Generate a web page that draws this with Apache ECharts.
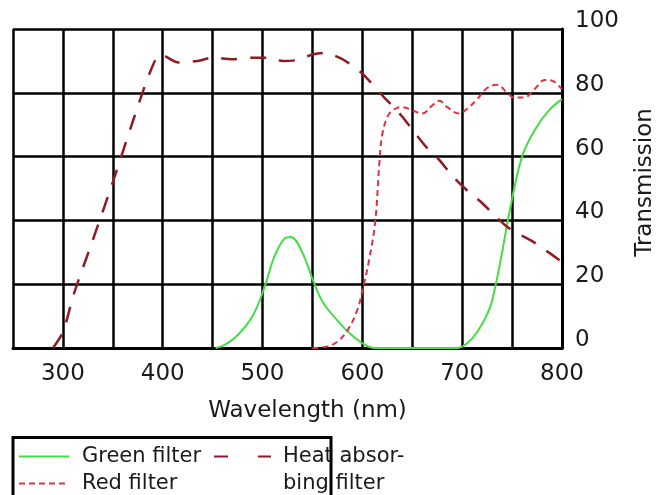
<!DOCTYPE html>
<html>
<head>
<meta charset="utf-8">
<script src="https://cdn.jsdelivr.net/npm/echarts@6/dist/echarts.min.js"></script>
<style>
  html, body { margin: 0; padding: 0; background: #fff; }
  #chart { width: 656px; height: 495px; }
</style>
</head>
<body>
<div id="chart"></div>
<script>
// filter transmission curves
var greenNm  = [453, 462, 475, 490, 503, 511, 521, 528, 539, 552, 561, 574, 587, 600, 612, 650, 695, 705, 715, 727, 733, 740, 747, 760, 774, 787, 800];
var greenVal = [0, 1, 4, 10, 20, 28, 34, 34.8, 30.5, 20, 14, 9, 4.7, 1.5, 0, 0, 0, 1.5, 5, 12, 19, 30, 42, 60, 69, 74.5, 78];

var redNm  = [550, 565, 575, 585, 595, 600, 607, 613, 617, 620, 626, 633, 640, 650, 660, 670, 677, 685, 697, 705, 715, 725, 735, 745, 752, 762, 772, 783, 792, 800];
var redVal = [0, 0.5, 2, 5.5, 12, 18, 28, 40, 58, 67, 73, 75, 75.5, 74.5, 73.5, 76, 77.5, 75.5, 73.5, 75, 78, 81.5, 82.5, 80, 78.5, 78.5, 81, 84, 83.5, 81];

var heatNm  = [290, 300, 311, 329, 350, 370, 388, 398, 416, 435, 450, 470, 490, 505, 520, 535, 550, 562, 577, 590, 600, 612, 622, 633, 640, 650, 664, 677, 690, 708, 718, 733, 745, 758, 770, 782, 800];
var heatVal = [0, 5, 17, 33, 52, 71, 87, 92, 89.5, 90, 91, 90.5, 91, 91, 90, 90.3, 92, 92.5, 91, 88.5, 86, 82, 78.5, 75, 72.5, 68.5, 63, 59, 54, 48.5, 46, 41.5, 38, 35.5, 33.5, 31, 27];

var xTicks = [300, 400, 500, 600, 700, 800];

function pairs(xs, ys){
  var out = [];
  for(var i=0;i<xs.length;i++){
    out.push([xs[i], ys[i]]);
  }
  return out;
}

var font = 'DejaVu Sans';
var ink = '#1a1a1a';
var chart = echarts.init(document.getElementById('chart'));

function legendText(pad){
  return { fontFamily: font, fontSize: 21, color: ink, lineHeight: 27, padding: [0, 0, 0, pad] };
}

chart.setOption({
  animation: false,
  backgroundColor: '#fff',
  textStyle: { fontFamily: font },
  grid: { left: 13, right: 94, top: 29, bottom: 147, containLabel: false, outerBoundsMode: 'none' },
  xAxis: {
    type: 'value',
    min: 250,
    max: 800,
    interval: 50,
    name: 'Wavelength (nm)',
    nameLocation: 'middle',
    nameGap: 52,
    nameTextStyle: { fontFamily: font, fontSize: 23, color: ink, padding: [0, 0, 0, 40] },
    axisLine: { show: true, lineStyle: { color: '#000', width: 3 } },
    axisTick: { show: false },
    axisLabel: {
      fontFamily: font, fontSize: 23, color: ink, margin: 15,
      formatter: function(v){ return xTicks.indexOf(v) >= 0 ? String(v) : ''; }
    },
    splitLine: { show: true, lineStyle: { color: '#000', width: 2.5 } }
  },
  yAxis: {
    type: 'value',
    position: 'right',
    min: 0,
    max: 100,
    interval: 20,
    name: 'Transmission',
    nameLocation: 'middle',
    nameRotate: 90,
    nameGap: 72,
    nameTextStyle: { fontFamily: font, fontSize: 23, color: ink, padding: [0, 0, 0, 12] },
    axisLine: { show: true, lineStyle: { color: '#000', width: 3 } },
    axisTick: { show: false },
    axisLabel: { fontFamily: font, fontSize: 23, color: ink, margin: 13, verticalAlign: 'bottom', lineHeight: 16 },
    splitLine: { show: true, lineStyle: { color: '#000', width: 2.5 } }
  },
  legend: [
    {
      data: ['Green filter'], left: 18, top: 443, padding: 0,
      itemWidth: 50, itemHeight: 14, selectedMode: false,
      itemStyle: { opacity: 0 },
      textStyle: legendText(8)
    },
    {
      data: ['Red filter'], left: 18, top: 470, padding: 0,
      itemWidth: 50, itemHeight: 14, selectedMode: false,
      itemStyle: { opacity: 0 },
      textStyle: legendText(8)
    },
    {
      data: ['Heat absorbing filter'], left: 213, top: 443, padding: 0,
      itemWidth: 57, itemHeight: 14, selectedMode: false,
      itemStyle: { opacity: 0 },
      lineStyle: { type: [14, 30] },
      formatter: function(){ return 'Heat absor-'; },
      textStyle: legendText(7)
    }
  ],
  graphic: [
    {
      type: 'rect',
      shape: { x: 13, y: 437.5, width: 318, height: 70 },
      style: { fill: 'none', stroke: '#000', lineWidth: 3 },
      z: 10
    },
    {
      type: 'text',
      style: { text: 'bing filter', x: 283, y: 484, font: '21px "DejaVu Sans"', fill: ink, verticalAlign: 'middle' },
      z: 10
    }
  ],
  series: [
    {
      name: 'Green filter',
      type: 'line',
      data: pairs(greenNm, greenVal),
      smooth: 0.4,
      symbol: 'none',
      lineStyle: { color: '#44dd44', width: 2 },
      itemStyle: { color: '#44dd44' },
      z: 3
    },
    {
      name: 'Red filter',
      type: 'line',
      data: pairs(redNm, redVal),
      smooth: 0.4,
      symbol: 'none',
      lineStyle: { color: '#dd3340', width: 2, type: [6, 4] },
      itemStyle: { color: '#dd3340' },
      z: 4
    },
    {
      name: 'Heat absorbing filter',
      type: 'line',
      data: pairs(heatNm, heatVal),
      smooth: 0.3,
      symbol: 'none',
      lineStyle: { color: '#8e1c22', width: 2.5, type: [16, 13] },
      itemStyle: { color: '#8e1c22' },
      z: 5
    }
  ]
});
</script>
</body>
</html>
